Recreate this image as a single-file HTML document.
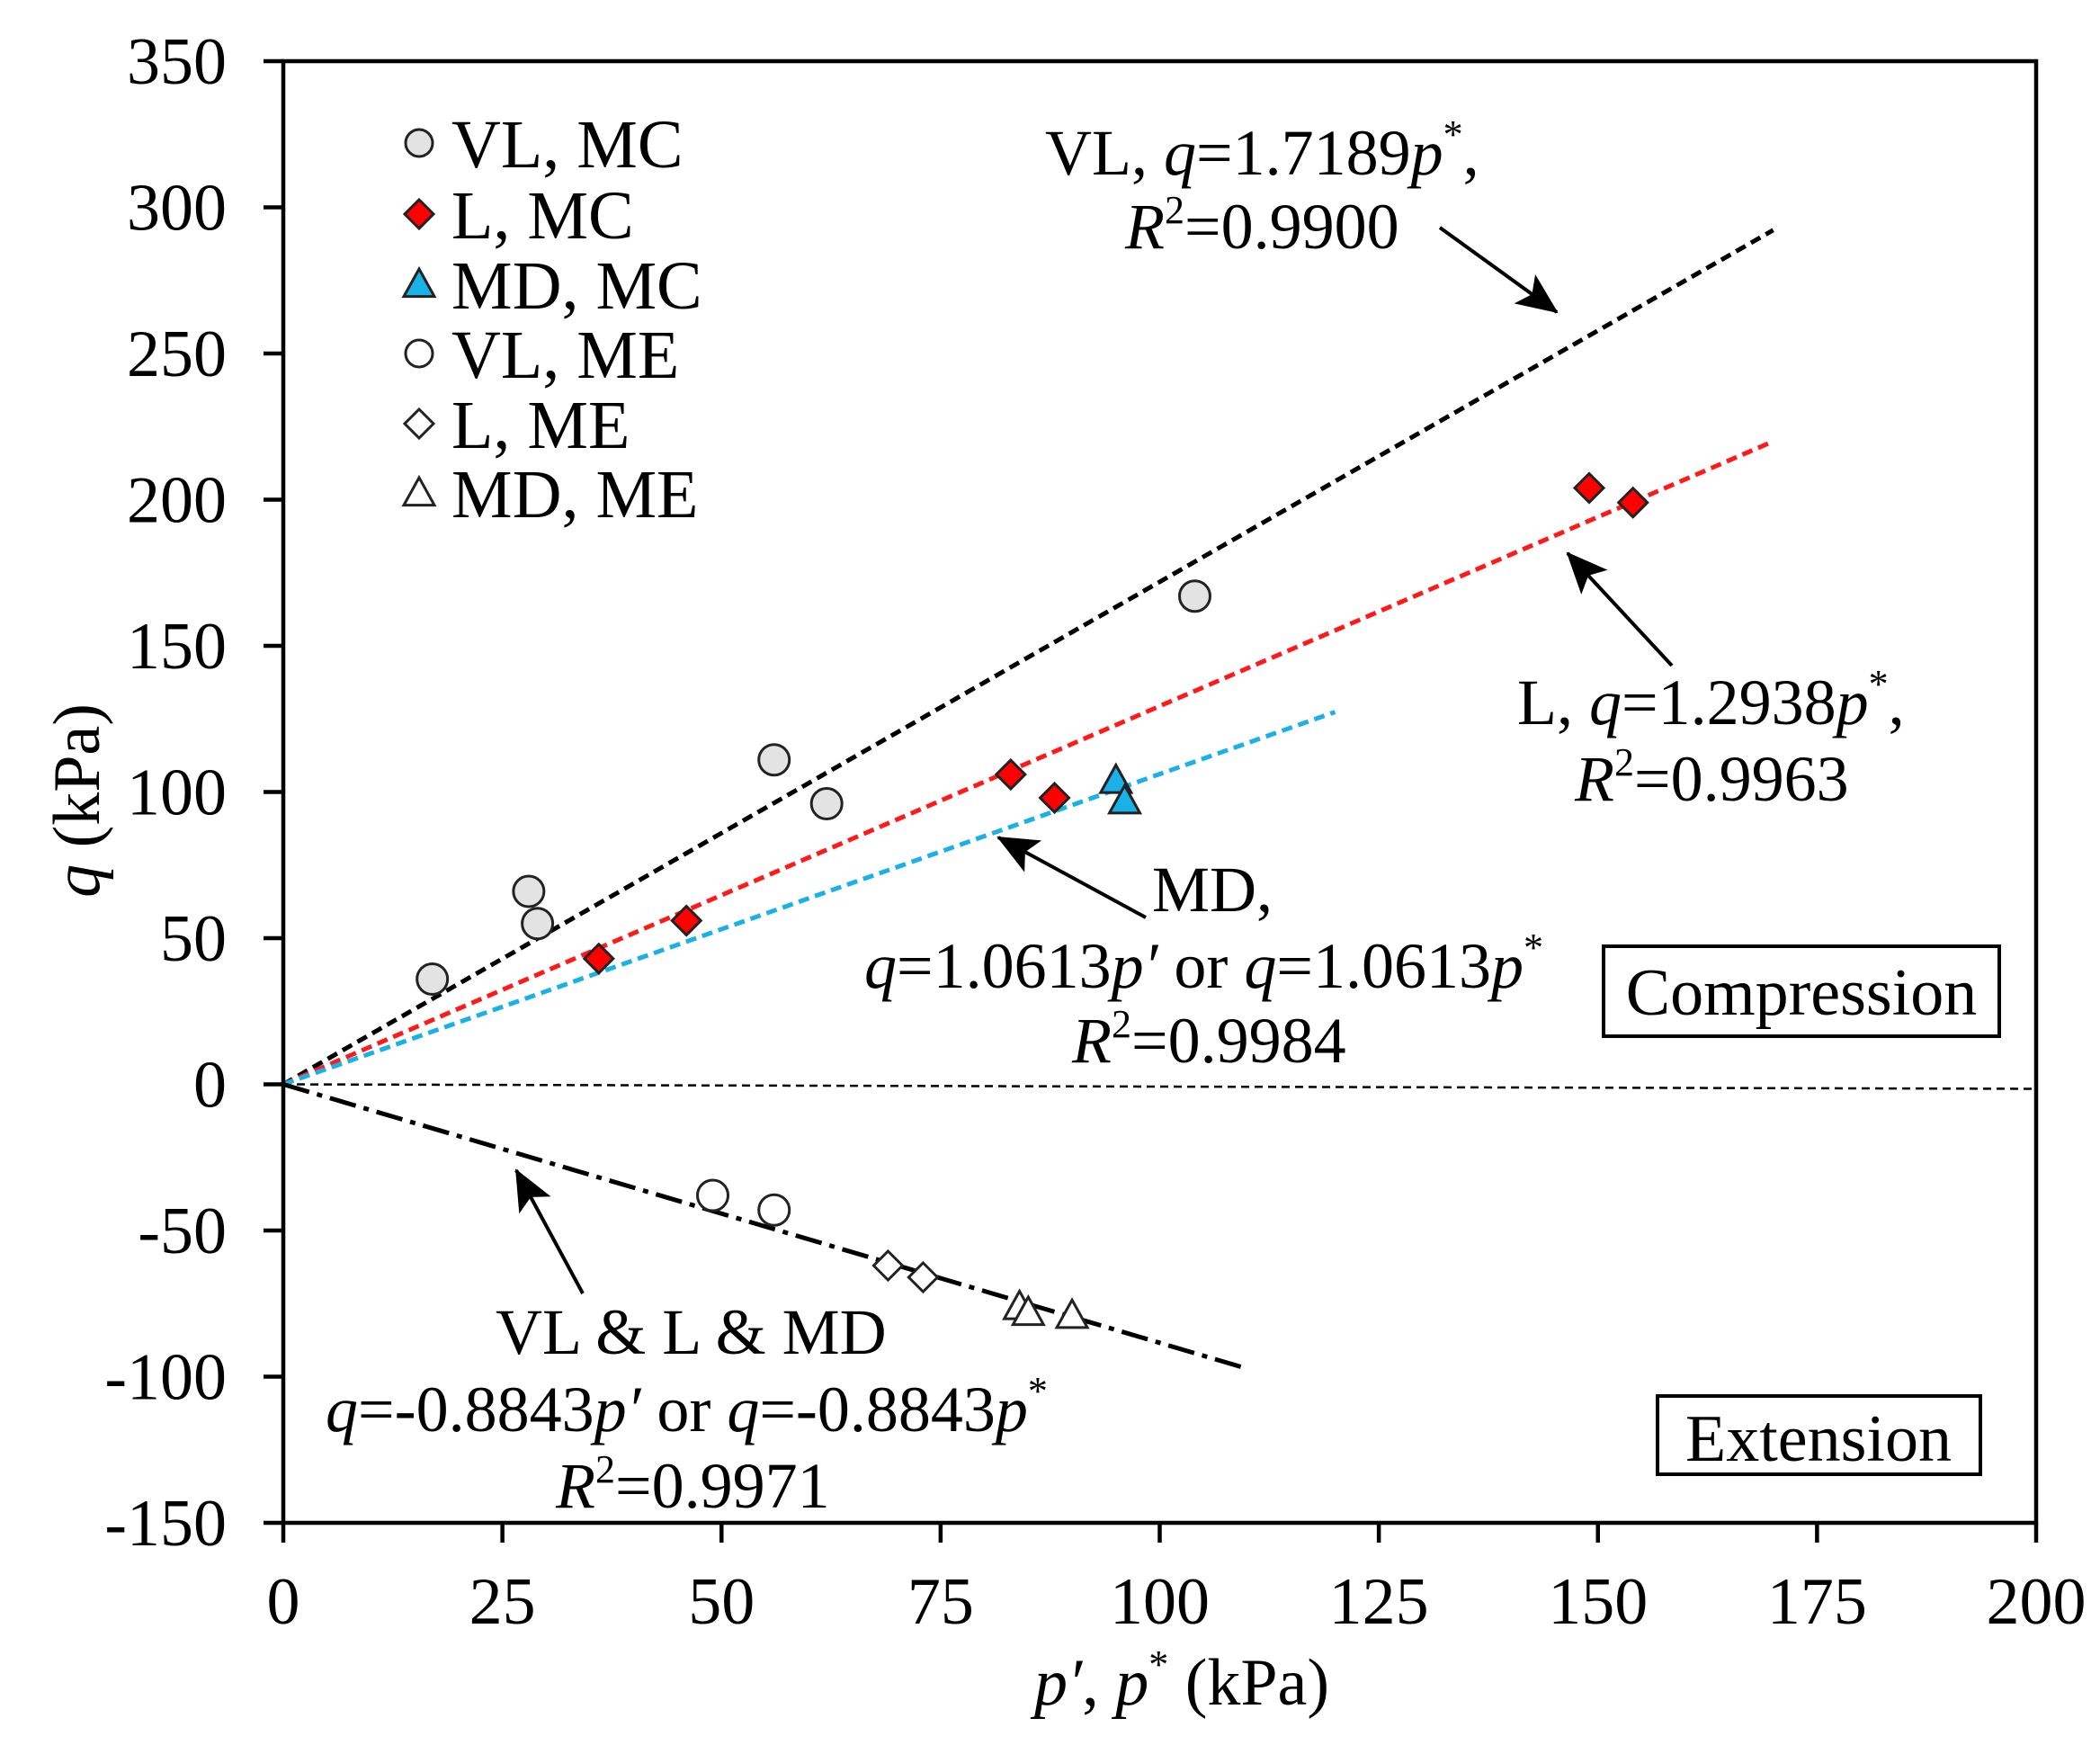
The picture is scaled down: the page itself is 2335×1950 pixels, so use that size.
<!DOCTYPE html>
<html><head><meta charset="utf-8"><style>
html,body{margin:0;padding:0;background:#fff}
svg text{font-family:"Liberation Serif","Times New Roman","Nimbus Roman",serif;fill:#000}
</style></head><body>
<svg id="chart" width="2335" height="1945" viewBox="0 0 2335 1945" xmlns="http://www.w3.org/2000/svg">
<defs>
<marker id="ah2" markerWidth="46" markerHeight="40" refX="44" refY="20" orient="auto" markerUnits="userSpaceOnUse" viewBox="0 0 46 40"><path d="M0,0 L46,20 L0,40 L10,20 z" fill="#000"/></marker>
</defs>
<g id="plot"></g>
</svg>
<script>
const xTicks=[0,25,50,75,100,125,150,175,200];
const yTicks=[350,300,250,200,150,100,50,0,-50,-100,-150];
const vlMcX=[17,28,29,56,62,104];
const vlMcY=[36,66,55,111,96,167];
const lMcX=[36,46,83,88,149,154];
const lMcY=[43,56,106,98,204,199];
const mdMcX=[95,96];
const mdMcY=[104,97];
const vlMeX=[49,56];
const vlMeY=[-38,-43];
const lMeX=[69,73];
const lMeY=[-62,-66];
const mdMeX=[84,85,90];
const mdMeY=[-76,-78,-79];
const fitSlopes=[1.7189,1.2938,1.0613,-0.8843];
const fitEnds=[170,170,120,110];

const X0=315,X1=2264,Y0=68,Y1=1693;
const sx=v=>X0+(v-0)/200*(X1-X0);
const sy=v=>Y0+(350-v)/500*(Y1-Y0);
const NS="http://www.w3.org/2000/svg";
const g=document.getElementById('plot');
function mk(tag,attrs,parent){const e=document.createElementNS(NS,tag);for(const k in attrs)e.setAttribute(k,attrs[k]);(parent||g).appendChild(e);return e;}

let zl=mk('line',{x1:sx(0),y1:sy(0),x2:sx(200),y2:sy(0)+5,stroke:'#000','stroke-width':2.5,'stroke-dasharray':'9,6'});



const fitColors=['#000','#ff1a1a','#1ab0e8','#000'];
const fitNames=['vl-fit-line','l-fit-line','md-fit-line','extension-fit-line'];
const fitDash=['12,7','12,7','12,7','30,9,6,9'];
for(let i=0;i<fitSlopes.length;i++){
  const l=mk('line',{x1:sx(0),y1:sy(0),x2:sx(fitEnds[i]),y2:sy(fitSlopes[i]*fitEnds[i]),stroke:fitColors[i],'stroke-width':5,'stroke-dasharray':fitDash[i]});
  
  
}

function circle(cx,cy,fill,parent){return mk('circle',{cx:cx,cy:cy,r:17,fill:fill,stroke:'#222','stroke-width':3},parent);}
function diamond(cx,cy,fill,parent){const r=16;return mk('polygon',{points:`${cx},${cy-r} ${cx+r},${cy} ${cx},${cy+r} ${cx-r},${cy}`,fill:fill,stroke:'#222','stroke-width':3},parent);}
function tri(cx,cy,fill,parent){const r=17;return mk('polygon',{points:`${cx},${cy-r} ${cx+r},${cy+r*0.8} ${cx-r},${cy+r*0.8}`,fill:fill,stroke:'#222','stroke-width':3},parent);}

const series=[
 [vlMcX,vlMcY,circle,'#e3e3e3','vl-mc-point'],
 [lMcX,lMcY,diamond,'#f00','l-mc-point'],
 [mdMcX,mdMcY,tri,'#1ab0e8','md-mc-point'],
 [vlMeX,vlMeY,circle,'#fff','vl-me-point'],
 [lMeX,lMeY,diamond,'#fff','l-me-point'],
 [mdMeX,mdMeY,tri,'#fff','md-me-point']
];
for(const s of series){for(let i=0;i<s[0].length;i++){const e=s[2](sx(s[0][i]),sy(s[1][i]),s[3]);
}}

let fr=mk('rect',{x:X0,y:Y0,width:X1-X0,height:Y1-Y0,fill:'none',stroke:'#000','stroke-width':4.5});


for(const t of yTicks){
  const tk=mk('line',{x1:X0-22,y1:sy(t),x2:X0,y2:sy(t),stroke:'#000','stroke-width':4.5});
  
  
  const tx=mk('text',{x:252,y:sy(t)+25,'text-anchor':'end','font-size':74});tx.textContent=t;
  
  
}
for(const t of xTicks){
  const tk=mk('line',{x1:sx(t),y1:Y1,x2:sx(t),y2:Y1+22,stroke:'#000','stroke-width':4.5});
  
  
  const tx=mk('text',{x:sx(t),y:1805,'text-anchor':'middle','font-size':74});tx.textContent=t;
  
  
}

const legLabels=['VL, MC','L, MC','MD, MC','VL, ME','L, ME','MD, ME'];
const legY=[159,238,316,393,471,548];
for(let i=0;i<legLabels.length;i++){
  const s=series[i];
  const lg=mk('g',{});
  
  
  const m=s[2](466,legY[i],s[3],lg);
  if(s[2]===circle){m.setAttribute('r',15);}
  const t=mk('text',{x:502,y:legY[i]+27,'font-size':76},lg);t.textContent=legLabels[i];
}
</script>
<svg style="position:absolute;left:0;top:0" width="2335" height="1945">
<defs>
<marker id="ah3" markerWidth="46" markerHeight="40" refX="44" refY="20" orient="auto" markerUnits="userSpaceOnUse" viewBox="0 0 46 40"><path d="M0,0 L46,20 L0,40 L10,20 z" fill="#000"/></marker>
</defs>
<g font-size="72">
<text x="1162" y="194">VL, <tspan font-style="italic">q</tspan>=1.7189<tspan font-style="italic">p</tspan><tspan font-size="44" dy="-30">*</tspan><tspan dy="30">,</tspan></text>
<text x="1251" y="276"><tspan font-style="italic">R</tspan><tspan font-size="44" dy="-28">2</tspan><tspan dy="28">=0.9900</tspan></text>
<text x="1687" y="805">L, <tspan font-style="italic">q</tspan>=1.2938<tspan font-style="italic">p</tspan><tspan font-size="44" dy="-30">*</tspan><tspan dy="30">,</tspan></text>
<text x="1751" y="890"><tspan font-style="italic">R</tspan><tspan font-size="44" dy="-28">2</tspan><tspan dy="28">=0.9963</tspan></text>
<text x="1281" y="1013">MD,</text>
<text x="961" y="1098"><tspan font-style="italic">q</tspan>=1.0613<tspan font-style="italic">p′</tspan> or <tspan font-style="italic">q</tspan>=1.0613<tspan font-style="italic">p</tspan><tspan font-size="44" dy="-30">*</tspan></text>
<text x="1192" y="1181"><tspan font-style="italic">R</tspan><tspan font-size="44" dy="-28">2</tspan><tspan dy="28">=0.9984</tspan></text>
<text x="551" y="1505">VL &amp; L &amp; MD</text>
<text x="362" y="1591"><tspan font-style="italic">q</tspan>=-0.8843<tspan font-style="italic">p′</tspan> or <tspan font-style="italic">q</tspan>=-0.8843<tspan font-style="italic">p</tspan><tspan font-size="44" dy="-30">*</tspan></text>
<text x="618" y="1676"><tspan font-style="italic">R</tspan><tspan font-size="44" dy="-28">2</tspan><tspan dy="28">=0.9971</tspan></text>
</g>
<line x1="1601" y1="253" x2="1731" y2="347" stroke="#000" stroke-width="4" marker-end="url(#ah3)"/>
<line x1="1859" y1="740" x2="1743" y2="615" stroke="#000" stroke-width="4" marker-end="url(#ah3)"/>
<line x1="1274" y1="1020" x2="1110" y2="931" stroke="#000" stroke-width="4" marker-end="url(#ah3)"/>
<line x1="648" y1="1438" x2="574" y2="1301" stroke="#000" stroke-width="4" marker-end="url(#ah3)"/>
<rect x="1783" y="1052" width="440" height="100" fill="#fff" stroke="#000" stroke-width="4"/>
<text x="2003" y="1128" text-anchor="middle" font-size="74">Compression</text>
<rect x="1843" y="1552" width="359" height="87" fill="#fff" stroke="#000" stroke-width="4"/>
<text x="2022" y="1624" text-anchor="middle" font-size="74">Extension</text>
<text x="1314" y="1895" text-anchor="middle" font-size="74"><tspan font-style="italic">p′</tspan>, <tspan font-style="italic">p</tspan><tspan font-size="44" dy="-30">*</tspan><tspan dy="30"> (kPa)</tspan></text>
<text transform="translate(110,890) rotate(-90)" text-anchor="middle" font-size="74"><tspan font-style="italic">q</tspan> (kPa)</text>
</svg>
</body></html>
